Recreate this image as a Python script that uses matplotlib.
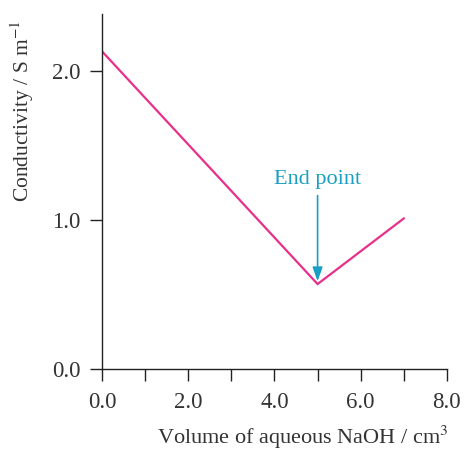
import matplotlib.pyplot as plt

volume = [0.0, 5.0, 7.0]
conductivity = [2.13, 0.57, 1.01]
x_ticks = [0, 1, 2, 3, 4, 5, 6, 7, 8]
x_labels = ['0.0', '', '2.0', '', '4.0', '', '6.0', '', '8.0']
y_ticks = [0, 1, 2]
y_labels = ['0.0', '1.0', '2.0']
end_point = (5.0, 0.57)

plt.rcParams['font.family'] = ['Liberation Serif', 'DejaVu Serif']
plt.rcParams['mathtext.fontset'] = 'stix'

fig = plt.figure(figsize=(4.66, 4.54), dpi=100)
ax = fig.add_axes([0.219, 0.187, 0.740, 0.782])

ax.plot(volume, conductivity, color='#e8308a', lw=1.6, solid_joinstyle='miter')

ax.annotate('End point', xy=end_point, xytext=(end_point[0], 1.21),
            ha='center', va='bottom', color='#1a9fc4', fontsize=16,
            arrowprops=dict(arrowstyle='-|>,head_width=0.25,head_length=0.7',
                            color='#1a9fc4', lw=1.2,
                            shrinkA=3, shrinkB=2, mutation_scale=12))

ax.set_xlim(0, 8)
ax.set_ylim(0, 2.38)
ax.set_xticks(x_ticks)
ax.set_xticklabels(x_labels)
ax.set_yticks(y_ticks)
ax.set_yticklabels(y_labels)
ax.tick_params(axis='both', direction='out', length=8.5, width=1.0,
               labelsize=16.5, colors='#222222', labelcolor='#333333')
ax.tick_params(axis='x', pad=8)
ax.tick_params(axis='y', pad=7)

for side in ['top', 'right']:
    ax.spines[side].set_visible(False)
for side in ['left', 'bottom']:
    ax.spines[side].set_linewidth(1.0)
    ax.spines[side].set_color('#222222')

fig.text(0.962, 0.022, 'Volume of aqueous NaOH / cm$^3$', ha='right', va='baseline',
         fontsize=16, color='#333333')
fig.text(0.047, 0.755, 'Conductivity / S m$^{-1}$', rotation=90, ha='center', va='center',
         fontsize=15.5, color='#333333')

plt.savefig('out.png', dpi=100)
